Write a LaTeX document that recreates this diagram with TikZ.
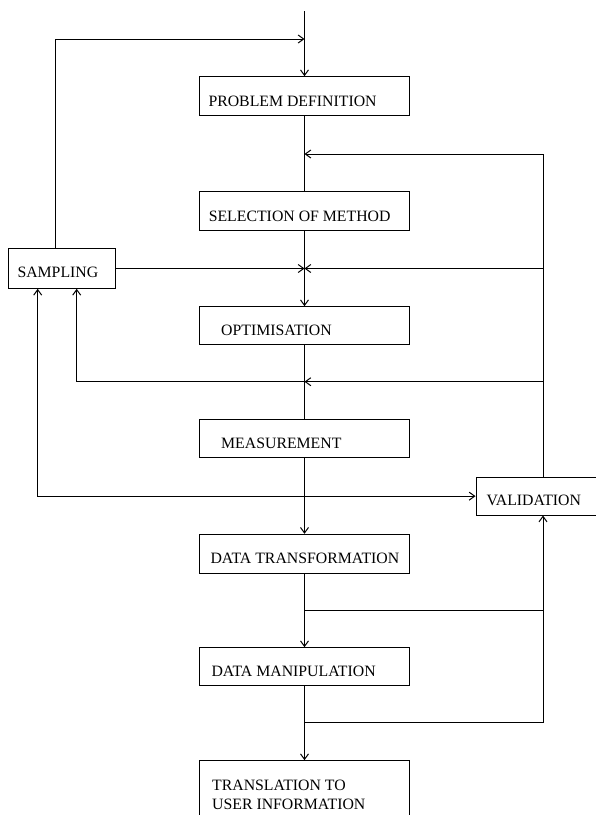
\documentclass[tikz,border=0pt]{standalone}
\usepackage{fontspec}
\setmainfont{Liberation Serif}
\usetikzlibrary{arrows.meta}

\begin{document}
\begin{tikzpicture}[x=1pt, y=-1pt,
  line width=1pt,
  stagebox/.style={draw, rectangle, inner sep=0pt, minimum width=210pt, minimum height=39pt},
  caption/.style={anchor=west, inner sep=0pt, font=\fontsize{15.8}{18.3}\selectfont, align=left},
  arr/.style={-{Straight Barb[length=5.5pt,width=8pt]}},
  arrboth/.style={{Straight Barb[length=5.5pt,width=8pt]}-{Straight Barb[length=5.5pt,width=8pt]}}
]
\path[use as bounding box] (0,0) rectangle (596,815);
\clip (0,0) rectangle (596,815);

% main chain of stages
\node[stagebox] (pd)   at (304.5,96.2)  {};
\node[stagebox] (sel)  at (304.5,211.2) {};
\node[stagebox, minimum height=37.3pt] (opt)  at (304.5,325.35) {};
\node[stagebox, minimum height=38pt]   (meas) at (304.5,438.3) {};
\node[stagebox] (dt)   at (304.5,553.8) {};
\node[stagebox, minimum height=37.3pt] (dm)   at (304.5,666.35) {};
\node[stagebox, minimum height=79.3pt] (tr)   at (304.5,800.35) {};

% side boxes
\node[stagebox, minimum width=106.7pt, minimum height=39.6pt] (samp) at (61.65,268.5) {};
\node[stagebox, minimum width=134pt, minimum height=37.7pt] (val) at (543,496.15) {};

% captions
\node[caption] (tpd)   at (208,101)    {PROBLEM DEFINITION};
\node[caption] (tsel)  at (208.3,216.7) {SELECTION OF METHOD};
\node[caption] (topt)  at (220.7,330)  {OPTIMISATION};
\node[caption] (tmeas) at (220.7,443.3) {MEASUREMENT};
\node[caption] (tdt)   at (210,558.3)  {DATA TRANSFORMATION};
\node[caption] (tdm)   at (211,671.7)  {DATA MANIPULATION};
\node[caption, anchor=north west] (ttr) at (211.7,779.8) {TRANSLATION TO\\USER INFORMATION};
\node[caption] (tsamp) at (17,272.7)   {SAMPLING};
\node[caption] (tval)  at (486,500)    {VALIDATION};

% junctions on the main line
\coordinate (top) at (304.5,11);
\coordinate (j1) at (304.5,39);
\coordinate (j2) at (304.5,154);
\coordinate (j3) at (304.5,268.5);
\coordinate (j4) at (304.5,381.7);
\coordinate (j5) at (304.5,610);
\coordinate (j6) at (304.5,722.7);

% feet of the loops on the sampling box
\coordinate (sampup)   at ([xshift=-5.95pt]samp.north);
\coordinate (sampin1)  at ([xshift=-23.95pt]samp.south);
\coordinate (sampin2)  at ([xshift=15.05pt]samp.south);

% main flow
\draw[arr] (top) -- (pd.north);
\draw (pd.south) -- (sel.north);
\draw (sel.south) -- (j3);
\draw[arr] (j3) -- (opt.north);
\draw (opt.south) -- (meas.north);
\draw[arr] (meas.south) -- (dt.north);
\draw[arr] (dt.south) -- (dm.north);
\draw[arr] (dm.south) -- (tr.north);

% sampling feeds back to the start and into optimisation
\draw[arr] (sampup) |- (j1);
\draw[arr] (samp.east) -- (j3);

% validation loops
\draw[arr] (val.north) |- (j2);
\draw[arr] (val.north) |- (j3);
\draw[arr] (val.north) |- (j4);
\draw[arr] (j4) -| (sampin2);
\draw[arrboth] (sampin1) |- (val.west);
\draw (j5) -- (j5 -| val.south);
\draw[arr] (j6) -| (val.south);
\end{tikzpicture}
\end{document}
